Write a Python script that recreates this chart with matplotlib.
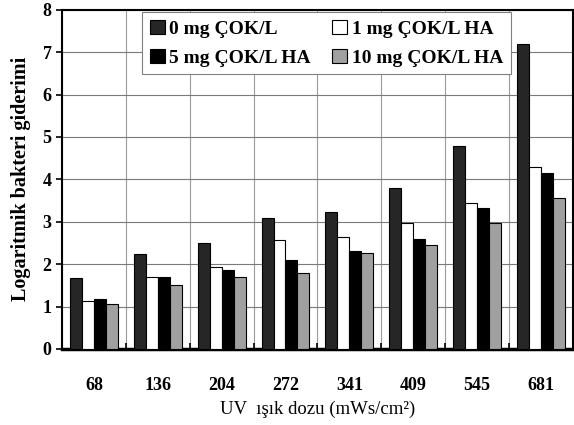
import numpy as np
import matplotlib.pyplot as plt

doses = ["68", "136", "204", "272", "341", "409", "545", "681"]
s0 = [1.68, 2.25, 2.50, 3.10, 3.22, 3.80, 4.78, 7.20]
s1 = [1.12, 1.70, 1.93, 2.58, 2.65, 2.97, 3.45, 4.30]
s5 = [1.18, 1.70, 1.87, 2.10, 2.32, 2.60, 3.32, 4.16]
s10 = [1.05, 1.50, 1.70, 1.80, 2.26, 2.45, 2.97, 3.57]
labels = ["0 mg ÇOK/L", "1 mg ÇOK/L HA", "5 mg ÇOK/L HA", "10 mg ÇOK/L HA"]
colors = ["#262626", "#ffffff", "#000000", "#a0a0a0"]

plt.rcParams["font.family"] = ["Liberation Serif", "DejaVu Serif"]

fig = plt.figure(figsize=(5.74, 4.25), dpi=100)
ax = fig.add_axes([0.108, 0.179, 0.89, 0.798])

x = np.arange(len(doses))
w = 0.1875
series = [s0, s1, s5, s10]
bars = []
for i, (vals, c, lab) in enumerate(zip(series, colors, labels)):
    b = ax.bar(x + (i - 1.5) * w, vals, w, color=c, edgecolor="black",
               linewidth=0.8, label=lab, zorder=3)
    bars.append(b)

ax.set_xlim(-0.5, len(doses) - 0.5)
ax.set_ylim(0, 8)
ax.set_yticks(range(9))
ax.set_xticks(x)
ax.set_xticklabels(doses)
ax.set_xticks(np.arange(-0.5, len(doses)), minor=True)
ax.tick_params(axis="x", which="major", length=0, pad=20, labelsize=13)
ax.tick_params(axis="x", which="minor", direction="in", length=4, width=1.2)
ax.tick_params(axis="y", direction="out", length=4, width=1.2, labelsize=13)
for t in ax.get_xticklabels() + ax.get_yticklabels():
    t.set_fontweight("bold")

ax.grid(axis="y", color="#7a7a7a", linewidth=0.8, zorder=0)
ax.grid(axis="x", which="minor", color="#9a9a9a", linewidth=0.8, zorder=0)
ax.set_axisbelow(True)
for sp in ax.spines.values():
    sp.set_linewidth(1.5)
ax.spines["bottom"].set_linewidth(2.5)

ax.set_ylabel("Logaritmik bakteri giderimi", fontsize=14.5, fontweight="bold", labelpad=8)
ax.set_xlabel("UV  ışık dozu (mWs/cm²)", fontsize=13.5, labelpad=5)

order = [0, 2, 1, 3]
leg = ax.legend([bars[i] for i in order], [labels[i] for i in order], ncol=2,
                loc="upper center", bbox_to_anchor=(0.518, 0.998),
                borderaxespad=0.1,
                prop={"weight": "bold", "size": 14}, frameon=True, fancybox=False,
                edgecolor="#808080", framealpha=1, handlelength=0.75,
                handleheight=0.75, handletextpad=0.25, columnspacing=1.1,
                borderpad=0.4, labelspacing=0.55)
leg.get_frame().set_linewidth(0.8)

fig.savefig("out.png", dpi=100)
